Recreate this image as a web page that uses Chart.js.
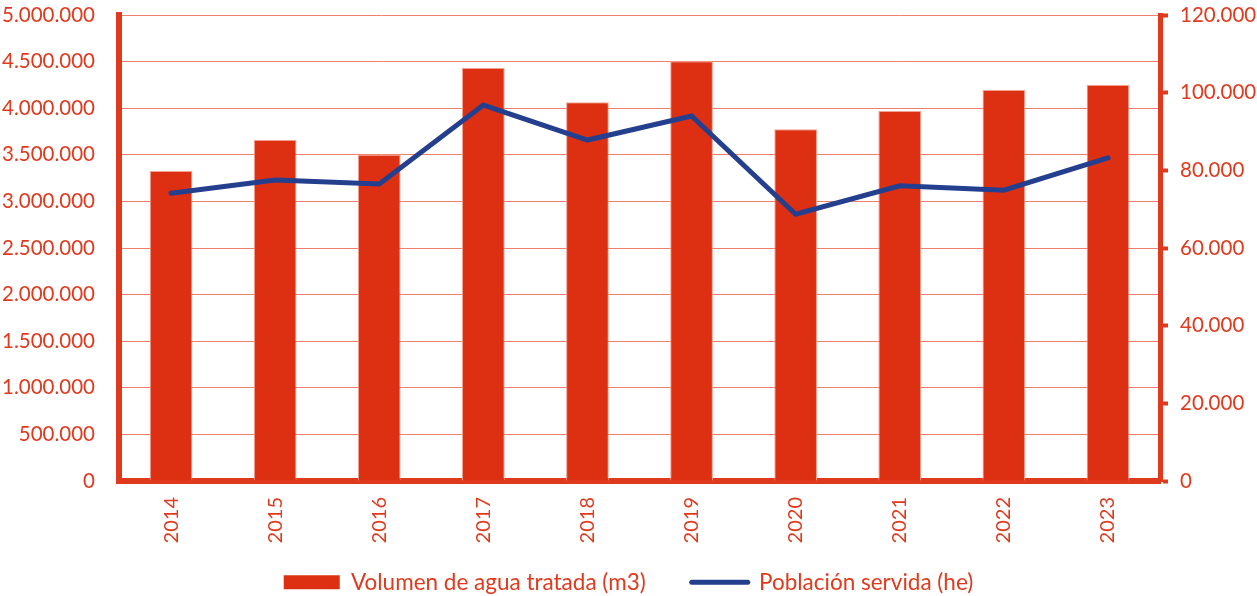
<!DOCTYPE html>
<html><head><meta charset="utf-8">
<script src="https://cdn.jsdelivr.net/npm/chart.js@4"></script>
<style>html,body{margin:0;padding:0;background:#fff;}#wrap{width:1257px;height:596px;}</style>
</head><body><div id="wrap"><canvas id="c" width="1257" height="596"></canvas></div>
<script>
const years = ['2014','2015','2016','2017','2018','2019','2020','2021','2022','2023'];
const volumen = [3325000, 3660000, 3500000, 4430000, 4065000, 4505000, 3775000, 3970000, 4195000, 4250000];
const poblacion = [74100, 77500, 76500, 96800, 87800, 94000, 68700, 76000, 74900, 83200];
const leftTicks = [0, 500000, 1000000, 1500000, 2000000, 2500000, 3000000, 3500000, 4000000, 4500000, 5000000];
const rightTicks = [0, 20000, 40000, 60000, 80000, 100000, 120000];

const RED = '#e03a1e';
const BAR = '#dd3012';
const BLUE = '#253f8f';
const fmt = v => String(Math.round(v)).replace(/\B(?=(\d{3})+(?!\d))/g, '.');
const FONT = {family: 'Lato', size: 20.5};
const LFONT = {family: 'Lato', size: 22.5};

const legendFit = {
  id: 'legendFit',
  afterInit(chart) {
    const lg = chart.legend;
    if (!lg) return;
    const f = lg.fit.bind(lg);
    lg.fit = function () { f(); this.height = 47; };
  },
  afterLayout(chart) {
    const lg = chart.legend;
    if (!lg) return;
    lg.top = 525; lg.bottom = 596; lg.height = 71;
  }
};

new Chart(document.getElementById('c'), {
  data: {
    labels: years,
    datasets: [
      {type: 'line', label: 'Población servida (he)', data: poblacion, yAxisID: 'y1',
       borderColor: BLUE, backgroundColor: BLUE, borderWidth: 5, pointRadius: 0,
       borderCapStyle: 'round', borderJoinStyle: 'miter', tension: 0, order: 0, pointStyle: 'line'},
      {type: 'bar', label: 'Volumen de agua tratada (m3)', data: volumen, yAxisID: 'y',
       backgroundColor: BAR, borderColor: '#f2a090', borderWidth: 1,
       barPercentage: 0.41, categoryPercentage: 1, order: 1, pointStyle: 'rect'}
    ]
  },
  plugins: [legendFit],
  options: {
    responsive: false, animation: false,
    layout: {padding: {top: 15, right: 0, left: 0, bottom: 0}},
    plugins: {
      tooltip: {enabled: false},
      legend: {
        position: 'bottom', reverse: true,
        labels: {
          usePointStyle: true, pointStyleWidth: 56, boxHeight: 14,
          color: RED, font: LFONT, padding: 46,
          generateLabels(chart) {
            const items = Chart.defaults.plugins.legend.labels.generateLabels(chart);
            items.forEach(it => {
              const ds = chart.data.datasets[it.datasetIndex];
              it.pointStyle = ds.pointStyle;
              if (ds.type === 'bar') { it.strokeStyle = BAR; it.lineWidth = 0; it.fillStyle = BAR; }
              else { it.lineWidth = 5; it.lineCap = 'round'; it.strokeStyle = BLUE; }
            });
            return items;
          }
        }
      }
    },
    scales: {
      x: {
        grid: {display: false, drawTicks: false},
        border: {display: true, color: RED, width: 6},
        ticks: {color: RED, font: {family: 'Lato', size: 20}, minRotation: 90, maxRotation: 90, padding: 16},
        afterFit(s) { s.height = 68; }
      },
      y: {
        position: 'left', min: 0, max: 5000000,
        afterBuildTicks(s) { s.ticks = leftTicks.map(v => ({value: v})); },
        grid: {color: '#ee7f6c', lineWidth: 1, drawTicks: false},
        border: {display: true, color: RED, width: 6},
        ticks: {color: RED, font: FONT, padding: 24, callback: v => fmt(v)},
        afterFit(s) { s.width = 119; s.paddingTop = 10; s.paddingBottom = 10; }
      },
      y1: {
        position: 'right', min: 0, max: 120000,
        afterBuildTicks(s) { s.ticks = rightTicks.map(v => ({value: v})); },
        grid: {drawOnChartArea: false, drawTicks: true, tickLength: 8, tickWidth: 4, tickColor: RED},
        border: {display: true, color: RED, width: 5},
        ticks: {color: RED, font: FONT, padding: 12, callback: v => fmt(v)},
        afterFit(s) { s.width = 97; s.paddingTop = 10; s.paddingBottom = 10; }
      }
    }
  }
});
</script></body></html>
